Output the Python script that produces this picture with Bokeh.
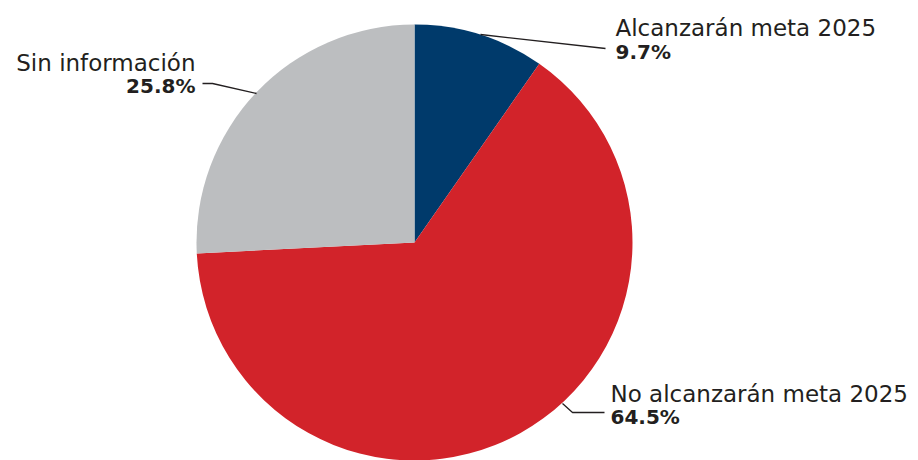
import math
from bokeh.plotting import figure
from bokeh.models import ColumnDataSource, Range1d
from bokeh.embed import file_html
from bokeh.resources import INLINE
from bokeh.core.properties import value

# ---- data ----
categories = ["Alcanzarán meta 2025", "No alcanzarán meta 2025", "Sin información"]
shares = [9.7, 64.5, 25.8]
pct_labels = ["9.7%", "64.5%", "25.8%"]
colors = ["#003A6B", "#D2232A", "#BCBEC0"]

# ---- layout ----
W, H = 918, 460
OFF = 0  # bokeh template sets body margin 0


def sx(x):
    return x - OFF


def sy(y):
    return (H + OFF) - y


CX, CY, R = sx(414), sy(242), 218

FONT = "DejaVu Sans"
TXT = "#231F20"
FS = "23px"
FSB = "20px"

p = figure(width=W, height=H, x_range=Range1d(0, W), y_range=Range1d(0, H),
           x_axis_type=None, y_axis_type=None, output_backend="svg",
           toolbar_location=None, min_border=0)
p.grid.visible = False
p.outline_line_color = None
p.background_fill_color = "white"
p.border_fill_color = "white"

# wedges (clockwise from 12 o'clock)
total = sum(shares)
starts, ends = [], []
cum = 0.0
for s in shares:
    starts.append(math.pi / 2 - 2 * math.pi * cum / total)
    cum += s
    ends.append(math.pi / 2 - 2 * math.pi * cum / total)

src = ColumnDataSource(dict(x=[CX] * len(shares), y=[CY] * len(shares),
                            start=starts, end=ends, color=colors))
p.wedge(x="x", y="y", radius=R, start_angle="start", end_angle="end",
        direction="clock", fill_color="color", line_color=None, source=src)

# leader lines (screen coords -> data)
leaders = [
    [(480, 34), (605, 48)],
    [(562, 403), (572, 412), (604, 412)],
    [(256, 93), (212, 83), (202, 83)],
]
for pts in leaders:
    p.line([sx(a) for a, b in pts], [sy(b) for a, b in pts],
           line_color=TXT, line_width=1.3)

# label placement (layout)
label_pos = [
    dict(x=615, y1=27, y2=51, align="left"),
    dict(x=610, y1=393, y2=416, align="left"),
    dict(x=195, y1=62, y2=85, align="right"),
]
for cat, pct, pos in zip(categories, pct_labels, label_pos):
    p.text(x=[sx(pos["x"])], y=[sy(pos["y1"])], text=[cat],
           text_font=value(FONT), text_font_size=FS, text_color=TXT,
           text_align=pos["align"], text_baseline="alphabetic")
    p.text(x=[sx(pos["x"])], y=[sy(pos["y2"])], text=[pct],
           text_font=value(FONT), text_font_size=FSB, text_font_style="bold",
           text_color=TXT, text_align=pos["align"], text_baseline="alphabetic")

open("out.html", "w").write(file_html(p, INLINE))
